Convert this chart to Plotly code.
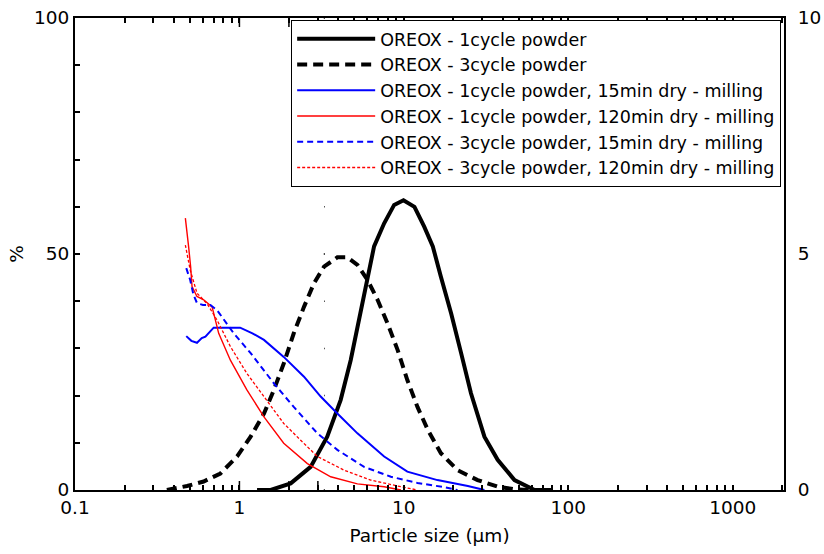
import math
import plotly.graph_objects as go

# ---- data (particle size in µm, volume %) ----
x_1c = [1.28, 1.55, 2.05, 2.71, 3.42, 4.13, 4.75, 5.34, 6.01, 6.59, 7.59, 8.73, 9.95,
        11.6, 13.3, 15.0, 16.8, 19.4, 22.3, 25.6, 30.9, 37.2, 47.1, 62.4, 78.8]
y_1c = [0.0, 0.0, 1.4, 4.9, 11.3, 19.1, 27.5, 36.0, 44.5, 51.6, 56.5, 60.4, 61.4,
        60.0, 55.8, 51.6, 45.2, 37.4, 29.0, 20.5, 11.3, 6.4, 2.1, 0.0, 0.0]

x_3c = [0.362, 0.480, 0.606, 0.766, 0.968, 1.17, 1.41, 1.62, 1.86, 2.14, 2.47, 2.84, 3.27,
        3.94, 4.54, 5.22, 6.01, 6.92, 7.96, 9.16, 10.5, 12.1, 14.0, 16.8, 21.2, 28.1,
        37.2, 46.9, 59.5]
y_3c = [0.0, 0.85, 1.8, 3.5, 7.1, 11.3, 16.2, 21.2, 26.8, 33.2, 38.8, 43.8, 47.3,
        49.3, 49.3, 47.7, 44.5, 40.3, 35.3, 29.7, 23.3, 17.6, 12.7, 7.8, 4.2, 2.1,
        0.7, 0.15, 0.0]

x_1c15 = [0.475, 0.510, 0.552, 0.590, 0.621, 0.697, 1.01, 1.20, 1.41, 1.86, 2.47, 3.12,
          3.94, 5.22, 7.59, 10.5, 16.0, 24.5, 30.9]
y_1c15 = [32.6, 31.6, 31.2, 32.2, 32.5, 34.4, 34.4, 33.2, 31.8, 28.2, 24.0, 19.8,
          16.2, 12.0, 7.1, 3.9, 2.1, 0.85, 0.0]

x_1c120 = [0.469, 0.480, 0.491, 0.505, 0.515, 0.552, 0.606, 0.682, 0.748, 0.881, 1.11,
           1.41, 1.86, 2.59, 3.59, 5.22, 7.59, 9.59]
y_1c120 = [57.6, 55.1, 51.5, 47.3, 43.1, 41.0, 40.3, 38.8, 33.2, 27.5, 21.2,
           15.5, 9.9, 5.6, 2.8, 1.3, 0.7, 0.0]

x_3c15 = [0.475, 0.502, 0.525, 0.552, 0.600, 0.666, 0.731, 0.923, 1.17, 1.62, 2.14,
          2.98, 3.94, 5.73, 8.34, 12.1, 17.6, 21.2]
y_3c15 = [47.0, 44.5, 41.4, 39.6, 39.2, 39.2, 38.1, 33.2, 29.0, 22.6, 17.6,
          12.0, 8.5, 4.9, 2.8, 1.5, 0.6, 0.0]

x_3c120 = [0.469, 0.502, 0.552, 0.635, 0.731, 0.881, 1.11, 1.41, 1.86, 2.35, 2.98,
           4.33, 6.29, 9.16, 12.1]
y_3c120 = [51.9, 46.6, 41.7, 39.5, 36.0, 30.4, 24.7, 19.8, 14.1, 10.6, 7.1,
           4.2, 2.1, 0.85, 0.0]

names = ["OREOX - 1cycle powder",
         "OREOX - 3cycle powder",
         "OREOX - 1cycle powder, 15min dry - milling",
         "OREOX - 1cycle powder, 120min dry - milling",
         "OREOX - 3cycle powder, 15min dry - milling",
         "OREOX - 3cycle powder, 120min dry - milling"]

x_major = [0.1, 1, 10, 100, 1000]
x_major_text = ["0.1", "1", "10", "100", "1000"]
x_all = [m * 10.0 ** e for e in range(-1, 4) for m in range(1, 10)]
x_all_text = [x_major_text[i // 9] if i % 9 == 0 else "" for i in range(len(x_all))]

y_all = list(range(0, 101, 10))
y_major = [0, 50, 100]
y_all_text = [str(v) if v in y_major else "" for v in y_all]
y2_major = [0, 5, 10]

FONT = "DejaVu Sans, sans-serif"
X_RANGE = [-1, 3.312]
PLOT_W, PLOT_H = 709.0, 472.0   # plot-area size in px (824-75-40, 554-18-64)
LOG_PER_PX = (X_RANGE[1] - X_RANGE[0]) / PLOT_W

fig = go.Figure()
series = [
    (x_1c, y_1c, names[0], "black", 4, "solid"),
    (x_3c, y_3c, names[1], "black", 4, "10px,6px"),
    (x_1c15, y_1c15, names[2], "#0000ff", 2, "solid"),
    (x_1c120, y_1c120, names[3], "#ff0000", 1.4, "solid"),
    (x_3c15, y_3c15, names[4], "#0000ff", 2, "6px,4px"),
    (x_3c120, y_3c120, names[5], "#ff0000", 1.3, "3px,2px"),
]
for xs, ys, nm, col, w, dash in series:
    fig.add_trace(go.Scatter(x=xs, y=ys, name=nm, mode="lines",
                             line=dict(color=col, width=w, dash=dash)))

# invisible trace to activate the right-hand scale
fig.add_trace(go.Scatter(x=[1], y=[0], yaxis="y2", mode="lines",
                         showlegend=False, hoverinfo="skip",
                         line=dict(color="rgba(0,0,0,0)")))

# inward tick marks on both y axes, placed in axis coordinates
tick_line = dict(color="black", width=1.5)
for v in y_all:
    ln = (9 if v in y_major else 5) * LOG_PER_PX
    fig.add_shape(type="line", xref="x", yref="y",
                  x0=X_RANGE[0], x1=X_RANGE[0] + ln, y0=v, y1=v,
                  line=tick_line, layer="above")
    fig.add_shape(type="line", xref="x", yref="y",
                  x0=X_RANGE[1] - ln, x1=X_RANGE[1], y0=v, y1=v,
                  line=tick_line, layer="above")
# longer decade ticks on bottom and top
for v in x_major:
    lv = math.log10(v)
    lh = 9 * 100.0 / PLOT_H
    fig.add_shape(type="line", xref="x", yref="y",
                  y0=0, y1=lh, x0=lv, x1=lv, line=tick_line, layer="above")
    fig.add_shape(type="line", xref="x", yref="y",
                  y0=100 - lh, y1=100, x0=lv, x1=lv, line=tick_line, layer="above")

fig.update_layout(
    width=824, height=554,
    margin=dict(l=75, r=40, t=18, b=64),
    paper_bgcolor="white", plot_bgcolor="white",
    font=dict(family=FONT, size=18.5, color="black"),
    showlegend=True,
    legend=dict(x=0.996, y=0.996, xanchor="right", yanchor="top",
                bgcolor="white", bordercolor="black", borderwidth=1,
                font=dict(family=FONT, size=17.5, color="black"),
                itemwidth=78, tracegroupgap=0),
    xaxis=dict(type="log", range=X_RANGE, automargin=False,
               tickmode="array", tickvals=x_all, ticktext=x_all_text,
               ticks="inside", ticklen=5, tickwidth=1.5, tickcolor="black",
               showline=True, linecolor="black", linewidth=2, mirror="ticks",
               showgrid=False, zeroline=False,
               tickfont=dict(size=18.5),
               title=dict(text="Particle size (\u00b5m)", font=dict(size=18.5), standoff=12)),
    yaxis=dict(range=[0, 100], automargin=False,
               tickmode="array", tickvals=y_all, ticktext=y_all_text,
               ticks="inside", ticklen=5, tickwidth=1.5, tickcolor="black",
               showline=True, linecolor="black", linewidth=2,
               showgrid=False, zeroline=False, tickfont=dict(size=18.5),
               title=dict(text="%", font=dict(size=18.5), standoff=6)),
    yaxis2=dict(range=[0, 10], automargin=False, tickmode="array", tickvals=y2_major,
                overlaying="y", side="right", anchor="x",
                ticks="", ticklabelstandoff=8,
                showline=True, linecolor="black", linewidth=2,
                showgrid=False, zeroline=False, tickfont=dict(size=18.5)),
)

fig.write_html("out.html")
